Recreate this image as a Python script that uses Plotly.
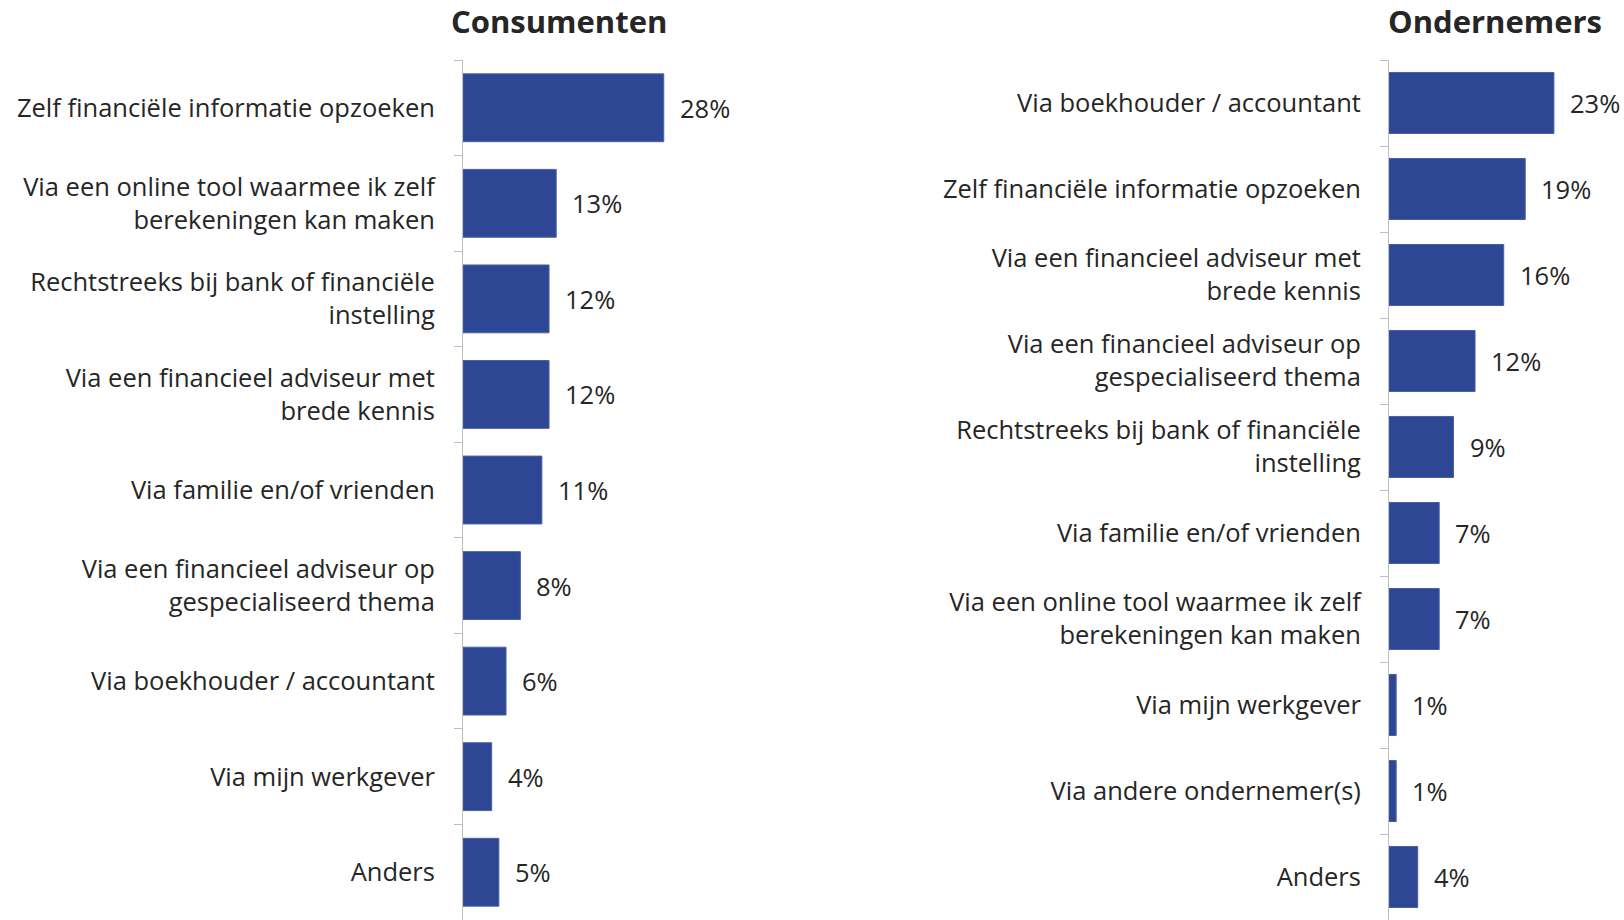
import plotly.graph_objects as go

# Consumenten
cons_labels = [
    "Zelf financiële informatie opzoeken",
    "Via een online tool waarmee ik zelf<br>berekeningen kan maken",
    "Rechtstreeks bij bank of financiële<br>instelling",
    "Via een financieel adviseur met<br>brede kennis",
    "Via familie en/of vrienden",
    "Via een financieel adviseur op<br>gespecialiseerd thema",
    "Via boekhouder / accountant",
    "Via mijn werkgever",
    "Anders",
]
cons_values = [28, 13, 12, 12, 11, 8, 6, 4, 5]

# Ondernemers
ond_labels = [
    "Via boekhouder / accountant",
    "Zelf financiële informatie opzoeken",
    "Via een financieel adviseur met<br>brede kennis",
    "Via een financieel adviseur op<br>gespecialiseerd thema",
    "Rechtstreeks bij bank of financiële<br>instelling",
    "Via familie en/of vrienden",
    "Via een online tool waarmee ik zelf<br>berekeningen kan maken",
    "Via mijn werkgever",
    "Via andere ondernemer(s)",
    "Anders",
]
ond_values = [23, 19, 16, 12, 9, 7, 7, 1, 1, 4]

titles = ["Consumenten", "Ondernemers"]

W, H = 1624, 920
FONT = "Open Sans"
FS = 25.5
BAR = "#2E4795"
TXT = "#262626"
AXIS = "#BFBFBF"
PX_PER_PCT = 7.17

fig = go.Figure()

panels = [
    (cons_labels, cons_values, "x", "y"),
    (ond_labels, ond_values, "x2", "y2"),
]

for labels, values, xa, ya in panels:
    fig.add_trace(go.Bar(
        x=values, y=labels, orientation="h",
        xaxis=xa, yaxis=ya,
        marker=dict(color=BAR, line=dict(color="#4A5FA6", width=1)),
        hoverinfo="skip", showlegend=False,
    ))
    for v, lab in zip(values, labels):
        fig.add_annotation(
            x=v, y=lab, xref=xa, yref=ya, text=f"{v}%",
            showarrow=False, xanchor="left", yanchor="middle", xshift=14,
            font=dict(family=FONT, size=FS, color=TXT),
        )

def xdom(x0, xmax):
    return [x0 / W, (x0 + PX_PER_PCT * xmax) / W]

yaxis_style = dict(
    autorange="reversed", showline=True, linecolor=AXIS, linewidth=1,
    ticks="outside", tickson="boundaries", ticklen=8, tickcolor=AXIS,
    showgrid=False, zeroline=False, ticklabelstandoff=22,
    tickfont=dict(family=FONT, size=FS, color=TXT),
)
xaxis_style = dict(visible=False, showgrid=False, zeroline=False, fixedrange=True)

fig.update_layout(
    width=W, height=H,
    margin=dict(l=0, r=0, t=60, b=0),
    plot_bgcolor="white", paper_bgcolor="white",
    bargap=0.29,
    xaxis=dict(domain=xdom(463, 40), range=[0, 40], **xaxis_style),
    xaxis2=dict(domain=xdom(1389, 32), range=[0, 32], **xaxis_style),
    yaxis=dict(domain=[0, 1], anchor="x", **yaxis_style),
    yaxis2=dict(domain=[0, 1], anchor="x2", **yaxis_style),
)

for title, cx in zip(titles, [559, 1495]):
    fig.add_annotation(
        x=cx / W, y=1.0, xref="paper", yref="paper", yshift=16,
        text=f"<b>{title}</b>", showarrow=False,
        xanchor="center", yanchor="bottom",
        font=dict(family=FONT, size=31, color=TXT),
    )

fig.write_html("out.html")
